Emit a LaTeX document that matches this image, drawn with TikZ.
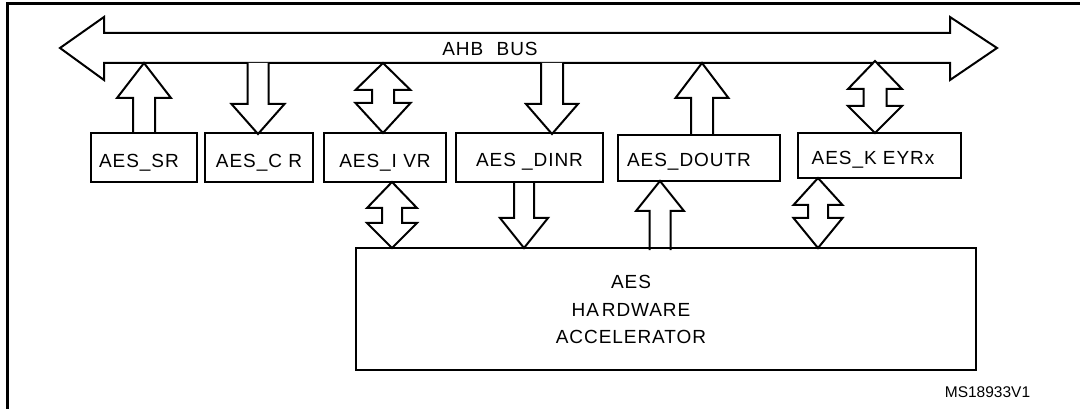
\documentclass[tikz,border=0pt]{standalone}
\usepackage{fontspec}
\setmainfont{Liberation Sans}
\newfontfamily\lblfont[LetterSpace=5]{Liberation Sans}
\tikzset{
  blk/.style={draw=black, line width=2pt, fill=white, line join=miter},
  regbox/.style={draw=black, line width=2.2pt, fill=none, inner sep=0pt},
  lbl/.style={anchor=base, inner sep=0pt, font=\lblfont\fontsize{19}{22}\selectfont},
  frame/.style={draw=black, line width=2.4pt},
}
% up arrow: cx, tip y, base y, head base y, head half width, shaft half width
\newcommand\blkup[6]{\draw[blk] (#1-#6,#3) -- (#1-#6,#4) -- (#1-#5,#4) -- (#1,#2) -- (#1+#5,#4) -- (#1+#6,#4) -- (#1+#6,#3);}
% double arrow: cx, top tip, top head base, bottom head top, bottom tip, hw, sw
\newcommand\blkboth[7]{\draw[blk] (#1,#2) -- (#1+#6,#3) -- (#1+#7,#3) -- (#1+#7,#4) -- (#1+#6,#4) -- (#1,#5) -- (#1-#6,#4) -- (#1-#7,#4) -- (#1-#7,#3) -- (#1-#6,#3) -- cycle;}
\begin{document}
\begin{tikzpicture}[x=1pt,y=-1pt]
\useasboundingbox (0,0) rectangle (1080,409);
% frame
\draw[frame] (1080,3.5) -- (7.5,3.5) -- (7.5,409);
% bus
\draw[blk] (60,48) -- (104,17) -- (104,33) -- (950,33) -- (950,17) -- (997,48) -- (950,80) -- (950,63) -- (104,63) -- (104,80) -- cycle;
\node[lbl] (bus) at (490,56) {AHB\hspace{0.7em}BUS};
% upper arrows
\blkup{144}{63}{133}{98}{27}{11}
\blkup{258}{134}{63}{104}{26.5}{10.5}
\blkboth{383}{63}{90}{103}{133}{27.5}{11}
\blkup{552}{134}{63}{104}{26}{11}
\blkup{702}{63}{135}{98}{26.5}{11}
\blkboth{875}{61}{89}{106}{133}{27}{11.5}
% lower arrows
\blkboth{392}{182}{208}{223}{248}{25}{10}
\blkup{524}{248}{182}{218}{24}{10}
\blkup{660}{181}{250}{211}{24}{10.5}
\blkboth{818}{178}{205}{218}{248}{24.5}{10}
% register boxes
\node[regbox, minimum width=106pt, minimum height=49pt] (sr) at (144,157.5) {};
\node[regbox, minimum width=108pt, minimum height=49pt] (cr) at (259,157.5) {};
\node[regbox, minimum width=122pt, minimum height=49pt] (ivr) at (385,157.5) {};
\node[regbox, minimum width=147pt, minimum height=49pt] (dinr) at (529.5,157.5) {};
\node[regbox, minimum width=162pt, minimum height=46pt] (doutr) at (699,158) {};
\node[regbox, minimum width=163pt, minimum height=45pt] (keyr) at (879.5,155.5) {};
\node[lbl] (tsr) at (139,168) {AES\_SR};
\node[lbl] (tcr) at (259,168) {AES\_C R};
\node[lbl] (tivr) at (385,168) {AES\_I VR};
\node[lbl] (tdinr) at (529.5,167) {AES \_DINR};
\node[lbl] (tdoutr) at (689,167) {AES\_DOUTR};
\node[lbl] (tkeyr) at (873,165) {AES\_K EYRx};
% accelerator
\node[regbox, minimum width=620pt, minimum height=122pt] (hw) at (666,309) {};
\node[lbl] (t1) at (631,288) {AES};
\node[lbl] (t2) at (631,316) {HA\hspace{0.15em}RDWARE};
\node[lbl] (t3) at (631,343) {ACCELERATOR};
% id
\node[anchor=base, inner sep=0pt, font=\fontsize{15.5}{18}\selectfont] (id) at (987.5,397.5) {MS18933V1};
\end{tikzpicture}
\end{document}
